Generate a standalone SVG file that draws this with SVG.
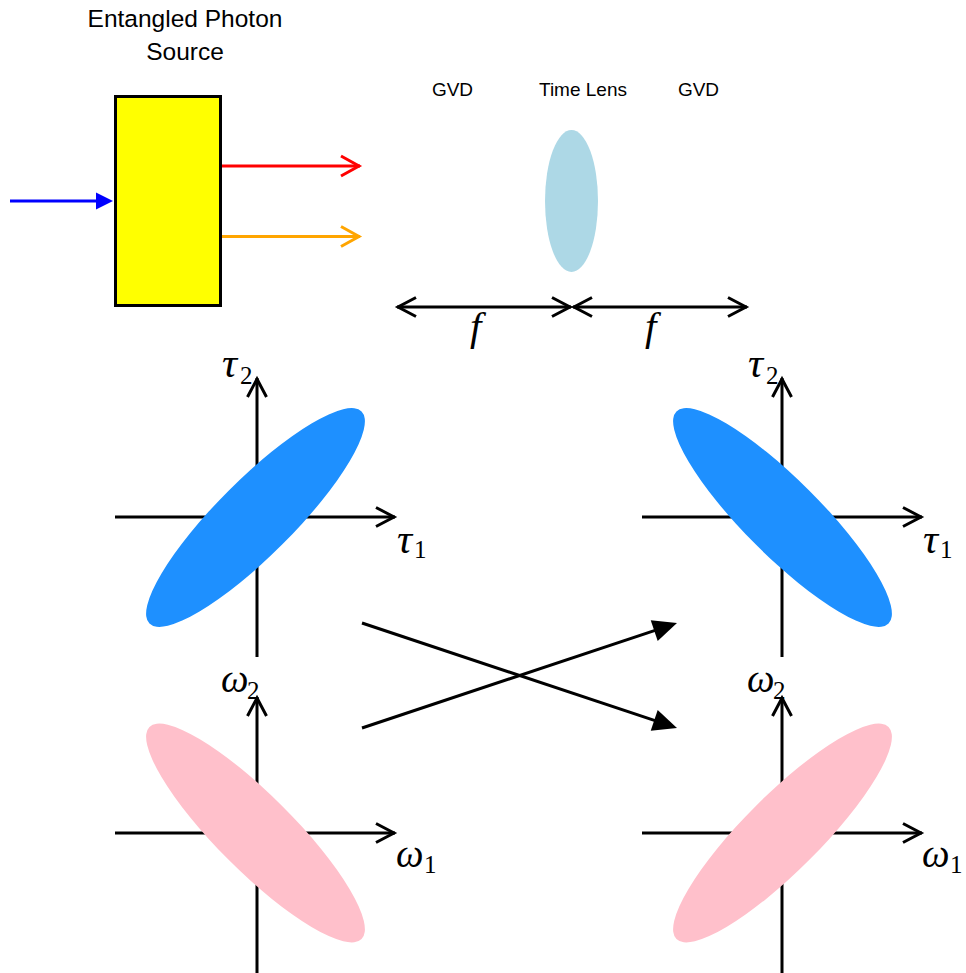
<svg xmlns="http://www.w3.org/2000/svg" width="966" height="973" viewBox="0 0 966 973">
  <style>
    .sans { font-family: "Liberation Sans", Arial, sans-serif; fill: #000; text-anchor: middle; }
    .math { font-family: "Liberation Serif", "DejaVu Serif", serif; font-style: italic; fill: #000; }
    .sub { font-family: "Liberation Serif", "DejaVu Serif", serif; font-style: normal; font-size: 25px; fill: #000; }
    .axis { stroke: #000; stroke-width: 3; fill: none; marker-end: url(#chev-black); }
    .dim { stroke: #000; stroke-width: 3; fill: none; marker-start: url(#chev-black); marker-end: url(#chev-black); }
    .cross { stroke: #000; stroke-width: 3; fill: none; marker-end: url(#tri-black); }
  </style>
  <defs>
    <marker id="chev-black" markerUnits="userSpaceOnUse" orient="auto-start-reverse" refX="0" refY="0" markerWidth="30" markerHeight="30" viewBox="-25 -15 30 30" overflow="visible">
      <path d="M -19 -9.5 L -1 0 L -19 9.5" fill="none" stroke="#000" stroke-width="3"/>
    </marker>
    <marker id="chev-red" markerUnits="userSpaceOnUse" orient="auto" refX="0" refY="0" markerWidth="30" markerHeight="30" viewBox="-25 -15 30 30" overflow="visible">
      <path d="M -19 -10 L -1 0 L -19 10" fill="none" stroke="#ff0000" stroke-width="3"/>
    </marker>
    <marker id="chev-orange" markerUnits="userSpaceOnUse" orient="auto" refX="0" refY="0" markerWidth="30" markerHeight="30" viewBox="-25 -15 30 30" overflow="visible">
      <path d="M -19 -10 L -1 0 L -19 10" fill="none" stroke="#ffa500" stroke-width="3"/>
    </marker>
    <marker id="tri-blue" markerUnits="userSpaceOnUse" orient="auto" refX="0" refY="0" markerWidth="30" markerHeight="30" viewBox="-15 -15 30 30" overflow="visible">
      <path d="M -7 -8.5 L 10 0 L -7 8.5 Z" fill="#0000ff"/>
    </marker>
    <marker id="tri-black" markerUnits="userSpaceOnUse" orient="auto" refX="0" refY="0" markerWidth="40" markerHeight="40" viewBox="-20 -20 40 40" overflow="visible">
      <path d="M -12 -11 L 12 0 L -12 11 Z" fill="#000"/>
    </marker>
  </defs>

  <!-- photon-pair source -->
  <g id="source">
    <text class="sans" x="185" y="27" font-size="24.5">Entangled Photon</text>
    <text class="sans" x="185" y="60" font-size="24.5">Source</text>
    <rect x="115.5" y="96.5" width="105" height="209" fill="#ffff00" stroke="#000" stroke-width="3"/>
  </g>

  <!-- time lens with dispersion stages -->
  <g id="time-lens">
    <text class="sans" x="452.5" y="96" font-size="19">GVD</text>
    <text class="sans" x="583" y="96" font-size="19">Time Lens</text>
    <text class="sans" x="698.5" y="96" font-size="19">GVD</text>
    <ellipse cx="571.5" cy="201" rx="26.5" ry="71" fill="#add8e6"/>
  </g>

  <!-- focal-length dimension labels -->
  <g id="focal-labels">
    <text class="math" x="470" y="340" font-size="41">f</text>
    <text class="math" x="645" y="340" font-size="41">f</text>
  </g>

  <!-- input joint temporal distribution -->
  <g id="tau-in">
    <line class="axis" x1="257" y1="657" x2="257" y2="378"/>
    <line class="axis" x1="115" y1="517" x2="395" y2="517"/>
    <ellipse cx="255.5" cy="517.5" rx="150" ry="38" transform="rotate(-45 255.5 517.5)" fill="#1e90ff"/>
    <text class="math" x="222" y="377" font-size="42">τ</text><text class="sub" x="240" y="384">2</text>
    <text class="math" x="397" y="553" font-size="42">τ</text><text class="sub" x="414" y="558">1</text>
  </g>

  <!-- output joint temporal distribution -->
  <g id="tau-out">
    <line class="axis" x1="782" y1="657" x2="782" y2="378"/>
    <line class="axis" x1="642" y1="517" x2="922" y2="517"/>
    <ellipse cx="782.5" cy="517.5" rx="150" ry="38" transform="rotate(45 782.5 517.5)" fill="#1e90ff"/>
    <text class="math" x="748" y="377" font-size="42">τ</text><text class="sub" x="766" y="384">2</text>
    <text class="math" x="923" y="553" font-size="42">τ</text><text class="sub" x="940" y="558">1</text>
  </g>

  <!-- input joint spectral distribution -->
  <g id="omega-in">
    <line class="axis" x1="257" y1="975" x2="257" y2="697"/>
    <line class="axis" x1="115" y1="833" x2="395" y2="833"/>
    <ellipse cx="255.5" cy="833" rx="150" ry="38" transform="rotate(45 255.5 833)" fill="#ffc0cb"/>
    <text class="math" x="221" y="692" font-size="39">ω</text><text class="sub" x="247" y="699">2</text>
    <text class="math" x="396" y="867" font-size="39">ω</text><text class="sub" x="424" y="873">1</text>
  </g>

  <!-- output joint spectral distribution -->
  <g id="omega-out">
    <line class="axis" x1="782" y1="975" x2="782" y2="697"/>
    <line class="axis" x1="642" y1="833" x2="922" y2="833"/>
    <ellipse cx="782.5" cy="833" rx="150" ry="38" transform="rotate(-45 782.5 833)" fill="#ffc0cb"/>
    <text class="math" x="747" y="692" font-size="39">ω</text><text class="sub" x="773" y="699">2</text>
    <text class="math" x="922" y="867" font-size="39">ω</text><text class="sub" x="950" y="873">1</text>
  </g>

  <!-- beams and mapping arrows -->
  <g id="connectors">
    <line x1="10" y1="201" x2="103" y2="201" stroke="#0000ff" stroke-width="3" marker-end="url(#tri-blue)"/>
    <line x1="222" y1="166" x2="360" y2="166" stroke="#ff0000" stroke-width="3" marker-end="url(#chev-red)"/>
    <line x1="222" y1="236.5" x2="360" y2="236.5" stroke="#ffa500" stroke-width="3" marker-end="url(#chev-orange)"/>
    <line class="dim" x1="397" y1="307" x2="571" y2="307"/>
    <line class="dim" x1="573" y1="307" x2="747" y2="307"/>
    <line class="cross" x1="362" y1="623" x2="665.6" y2="724.2"/>
    <line class="cross" x1="362" y1="728" x2="665.6" y2="626.8"/>
  </g>
</svg>
